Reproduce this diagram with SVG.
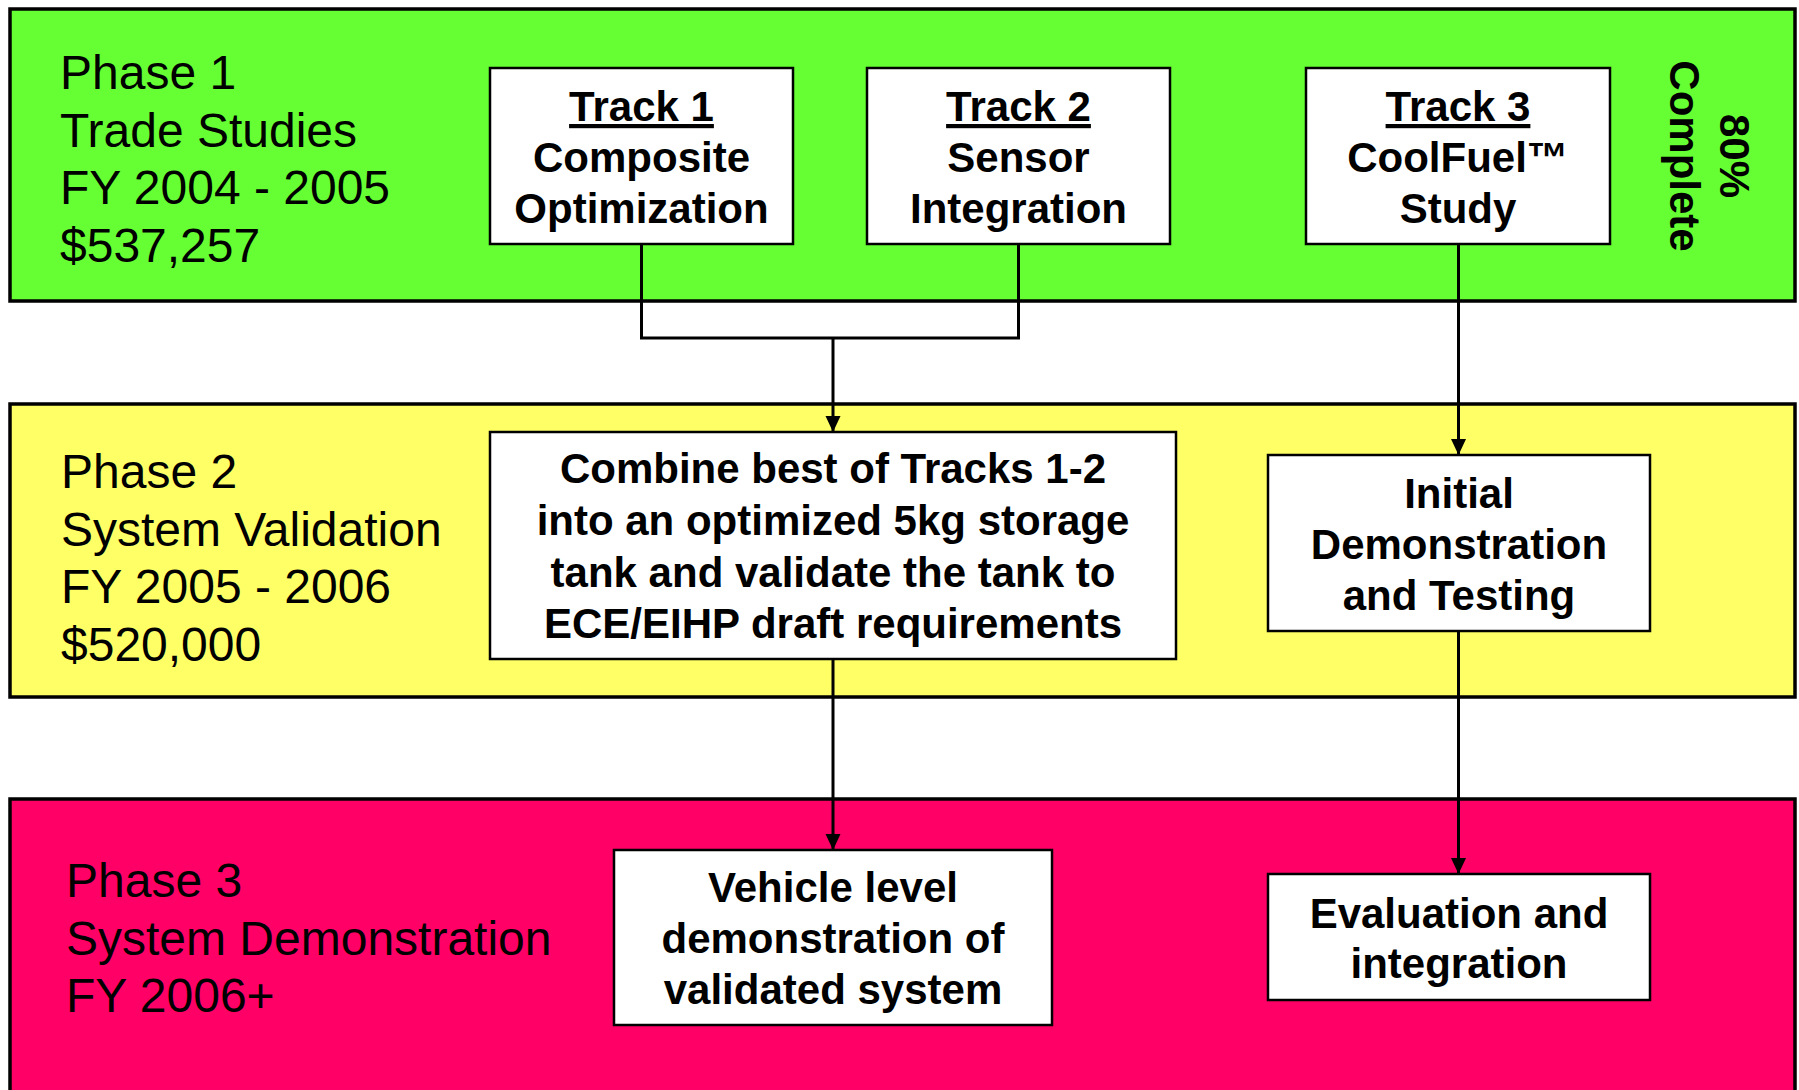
<svg xmlns="http://www.w3.org/2000/svg" width="1799" height="1090" viewBox="0 0 1799 1090">
<style>
.phase{stroke:#000;stroke-width:3.5}
.box{fill:#fff;stroke:#000;stroke-width:2.5}
.lbl{font-family:"Liberation Sans",Arial,sans-serif;font-size:48px;fill:#000}
.bt{font-family:"Liberation Sans",Arial,sans-serif;font-size:42px;font-weight:bold;fill:#000;text-anchor:middle}
.ul{text-decoration:underline}
.conn{fill:none;stroke:#000;stroke-width:3}
</style>
<defs>
<marker id="arr" markerUnits="userSpaceOnUse" markerWidth="17" markerHeight="16" refX="16" refY="7.5" orient="auto">
<path d="M0,0 L16,7.5 L0,15 z" fill="#000"/>
</marker>
</defs>
<rect width="1799" height="1090" fill="#fff"/>
<g id="phase1">
<rect class="phase" x="10" y="9" width="1785" height="292" fill="#66FF33"/>
<text class="lbl" x="60" y="89">Phase 1</text>
<text class="lbl" x="60" y="146.5">Trade Studies</text>
<text class="lbl" x="60" y="204">FY 2004 - 2005</text>
<text class="lbl" x="60" y="261.5">$537,257</text>
<g transform="translate(1720,156) rotate(90)">
<text class="bt" x="0" y="0">80%</text>
<text class="bt" x="0" y="50">Complete</text>
</g>
</g>
<g id="phase2">
<rect class="phase" x="10" y="404" width="1785" height="293" fill="#FFFF66"/>
<text class="lbl" x="61" y="488">Phase 2</text>
<text class="lbl" x="61" y="545.5">System Validation</text>
<text class="lbl" x="61" y="603">FY 2005 - 2006</text>
<text class="lbl" x="61" y="660.5">$520,000</text>
</g>
<g id="phase3">
<rect class="phase" x="10" y="799" width="1785" height="300" fill="#FF0066"/>
<text class="lbl" x="66" y="897">Phase 3</text>
<text class="lbl" x="66" y="954.5">System Demonstration</text>
<text class="lbl" x="66" y="1012">FY 2006+</text>
</g>
<g id="connectors">
<path class="conn" d="M641.5,244 V338 H1018.5 V244"/>
<line class="conn" x1="833" y1="338" x2="833" y2="432" marker-end="url(#arr)"/>
<line class="conn" x1="1458.5" y1="244" x2="1458.5" y2="455" marker-end="url(#arr)"/>
<line class="conn" x1="833" y1="659" x2="833" y2="850" marker-end="url(#arr)"/>
<line class="conn" x1="1458.5" y1="631" x2="1458.5" y2="874" marker-end="url(#arr)"/>
</g>
<g id="track1">
<rect class="box" x="490" y="68" width="303" height="176"/>
<text class="bt ul" x="641.5" y="121">Track 1</text>
<text class="bt" x="641.5" y="172">Composite</text>
<text class="bt" x="641.5" y="223">Optimization</text>
</g>
<g id="track2">
<rect class="box" x="867" y="68" width="303" height="176"/>
<text class="bt ul" x="1018.5" y="121">Track 2</text>
<text class="bt" x="1018.5" y="172">Sensor</text>
<text class="bt" x="1018.5" y="223">Integration</text>
</g>
<g id="track3">
<rect class="box" x="1306" y="68" width="304" height="176"/>
<text class="bt ul" x="1458" y="121">Track 3</text>
<text class="bt" x="1458" y="172">CoolFuel™</text>
<text class="bt" x="1458" y="223">Study</text>
</g>
<g id="combine">
<rect class="box" x="490" y="432" width="686" height="227"/>
<text class="bt" x="833" y="483">Combine best of Tracks 1-2</text>
<text class="bt" x="833" y="535">into an optimized 5kg storage</text>
<text class="bt" x="833" y="587">tank and validate the tank to</text>
<text class="bt" x="833" y="638">ECE/EIHP draft requirements</text>
</g>
<g id="initial">
<rect class="box" x="1268" y="455" width="382" height="176"/>
<text class="bt" x="1459" y="508">Initial</text>
<text class="bt" x="1459" y="559">Demonstration</text>
<text class="bt" x="1459" y="610">and Testing</text>
</g>
<g id="vehicle">
<rect class="box" x="614" y="850" width="438" height="175"/>
<text class="bt" x="833" y="902">Vehicle level</text>
<text class="bt" x="833" y="953">demonstration of</text>
<text class="bt" x="833" y="1004">validated system</text>
</g>
<g id="evaluation">
<rect class="box" x="1268" y="874" width="382" height="126"/>
<text class="bt" x="1459" y="928">Evaluation and</text>
<text class="bt" x="1459" y="978">integration</text>
</g>
</svg>
